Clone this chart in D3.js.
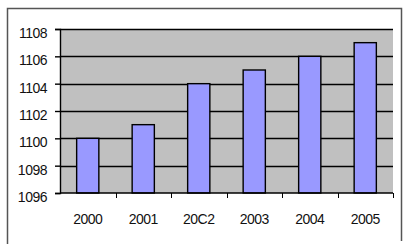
<!DOCTYPE html>
<html>
<head>
<meta charset="utf-8">
<script src="https://cdn.jsdelivr.net/npm/d3@7"></script>
<style>
  body { margin: 0; background: #fff; }
  svg { display: block; }
  text { font-family: "Liberation Sans", Arial, sans-serif; font-size: 14px; letter-spacing: -0.5px; fill: #111; }
</style>
</head>
<body>
<svg id="chart" width="408" height="244"></svg>
<script>
var years = ["2000", "2001", "20C2", "2003", "2004", "2005"];
var values = [1100, 1101, 1104, 1105, 1106, 1107];
var yTicks = [1096, 1098, 1100, 1102, 1104, 1106, 1108];

var svg = d3.select("#chart");

// outer frame (bottom is cut off in the original)
svg.append("path")
    .attr("d", "M7.5,244 V8.5 H401.5 V241")
    .attr("fill", "none")
    .attr("stroke", "#555")
    .attr("stroke-width", 1.5);

var plotLeft = 60, plotRight = 393, plotTop = 29, plotBottom = 193;

var x = d3.scaleBand()
    .domain(years)
    .range([plotLeft, plotRight])
    .paddingInner(0.6)
    .paddingOuter(0.3);

var y = d3.scaleLinear()
    .domain([1096, 1108])
    .range([plotBottom, plotTop]);

// plot area
svg.append("rect")
    .attr("x", plotLeft)
    .attr("y", plotTop)
    .attr("width", plotRight - plotLeft)
    .attr("height", plotBottom - plotTop)
    .attr("fill", "#c0c0c0");

// gridlines
svg.selectAll("line.grid")
    .data(yTicks.slice(1))
    .enter()
    .append("line")
    .attr("class", "grid")
    .attr("x1", plotLeft)
    .attr("x2", plotRight)
    .attr("y1", function (d) { return Math.round(y(d)) + 0.5 })
    .attr("y2", function (d) { return Math.round(y(d)) + 0.5 })
    .attr("stroke", "#000")
    .attr("stroke-width", 1.5);

// bars
svg.selectAll("rect.bar")
    .data(values)
    .enter()
    .append("rect")
    .attr("class", "bar")
    .attr("x", function (d, i) { return x(years[i]) })
    .attr("y", function (d) { return y(d) })
    .attr("width", x.bandwidth())
    .attr("height", function (d) { return plotBottom - y(d) })
    .attr("fill", "#9999ff")
    .attr("stroke", "#000")
    .attr("stroke-width", 1.4);

// y axis
var yAxis = d3.axisLeft(y).tickValues(yTicks).tickSize(5).tickPadding(8).tickFormat(d3.format("d"));
var gy = svg.append("g").attr("transform", "translate(" + plotLeft + ",0)").call(yAxis);
gy.selectAll("text").attr("dy", "0.32em").attr("y", 4).style("font-size", "14px");
gy.select(".domain").attr("stroke-width", 1.4);
gy.selectAll(".tick line").attr("stroke-width", 1.4);

// x axis: ticks between categories
var step = x.step();
var gx = svg.append("g").attr("transform", "translate(0," + plotBottom + ")");
gx.append("line")
    .attr("x1", plotLeft).attr("x2", plotRight)
    .attr("stroke", "#000").attr("stroke-width", 1.4);
gx.selectAll("line.tk")
    .data(years)
    .enter()
    .append("line")
    .attr("class", "tk")
    .attr("x1", function (d, i) { return Math.round(plotLeft + step * (i + 1)) + 0.5 })
    .attr("x2", function (d, i) { return Math.round(plotLeft + step * (i + 1)) + 0.5 })
    .attr("y1", 0).attr("y2", 5)
    .attr("stroke", "#000");
gx.selectAll("text")
    .data(years)
    .enter()
    .append("text")
    .attr("x", function (d) { return x(d) + x.bandwidth() / 2 })
    .attr("y", 31)
    .attr("text-anchor", "middle")
    .text(function (d) { return d });
</script>
</body>
</html>
